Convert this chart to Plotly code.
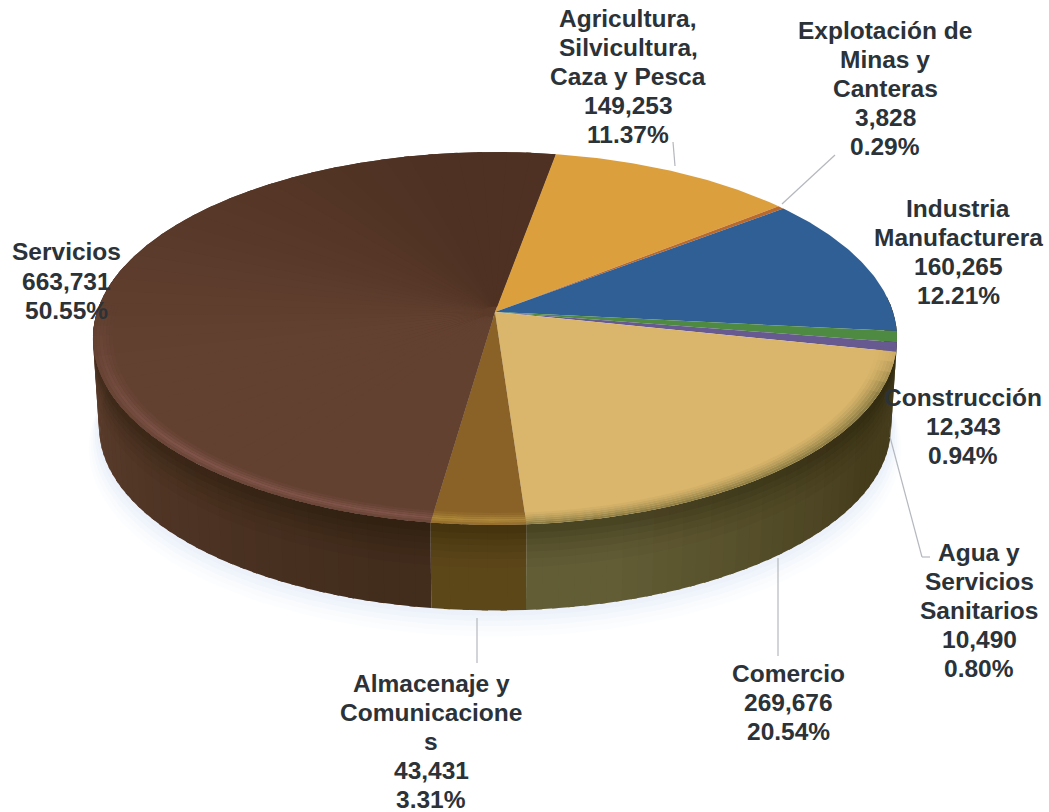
import numpy as np
import plotly.graph_objects as go

# ---- data ----
name_lines = [
    ["Agricultura,", "Silvicultura,", "Caza y Pesca"],
    ["Explotación de", "Minas y", "Canteras"],
    ["Industria", "Manufacturera"],
    ["Construcción"],
    ["Agua y", "Servicios", "Sanitarios"],
    ["Comercio"],
    ["Almacenaje y", "Comunicacione", "s"],
    ["Servicios"],
]
values = [149253, 3828, 160265, 12343, 10490, 269676, 43431, 663731]
percents = [11.37, 0.29, 12.21, 0.94, 0.80, 20.54, 3.31, 50.55]

# ---- style ----
top_colors = ["#dc9f3e", "#b9692c", "#2f5f95", "#4f8a42", "#675a90", "#dab66c", "#8a6228", "#5b3a29"]
edge_colors = ["#dc9f3e", "#b9692c", "#2f5f95", "#4f8a42", "#675a90", "#8f7f46", "#b08a3a", "#80544a"]
side_colors = ["#6a4a1c", "#5a3a18", "#1f3a5c", "#2f5227", "#3e3558", "#625d35", "#5c4719", "#422c1c"]
label_x = [628, 885, 958, 963, 979, 788, 431, 66]
label_y = [18, 30, 208, 397, 552, 673, 683, 252]
line_pitch = 29.2
text_color = "#2b3238"
leaders_px = [((673, 142), (675, 166)), ((835, 155), (782, 204)),
              ((890, 437), (922, 557)), ((922, 557), (930, 557)),
              ((778, 558), (778, 656)), ((477, 618), (477, 663))]

W, H = 1049, 812
CX, CY, R = 495, 312, 398.0      # pixels per data unit and pie centre
START = 10.0
K, HY = 0.142, 0.459             # perspective strength, vertical squash
DEPTH, SHRINK = 0.223, 0.985
NEAR, FAR = "#634131", "#4e3122"


def proj(theta_deg, r=1.0, drop=0.0, scale=1.0):
    t = np.radians(theta_deg)
    u, v = r * np.sin(t), r * np.cos(t)
    s = 1.0 / (1.0 + K * v)
    return scale * u * s, scale * HY * v * s - drop


def mix(c1, c2, f):
    a = [int(c1[i:i + 2], 16) for i in (1, 3, 5)]
    b = [int(c2[i:i + 2], 16) for i in (1, 3, 5)]
    m = [round(a[i] * (1 - f) + b[i] * f) for i in range(3)]
    return "#%02x%02x%02x" % tuple(m)


def poly(fig, x, y, color):
    fig.add_trace(go.Scatter(x=list(x), y=list(y), mode="lines", fill="toself", fillcolor=color,
                             line=dict(color=color, width=0), hoverinfo="skip", showlegend=False))


total = sum(values)
edges = START + np.concatenate([[0], np.cumsum(values)]) / total * 360.0
fig = go.Figure()

# very faint bluish halo under the disc
circle = np.linspace(90, 290, 80)
for grow, alpha in [(0.05, 0.04), (0.04, 0.05), (0.03, 0.06), (0.02, 0.07), (0.01, 0.08)]:
    xa, ya = proj(circle, r=1 + grow / 2, drop=DEPTH + grow, scale=SHRINK)
    xb, yb = proj(circle[::-1], r=0.9)
    poly(fig, np.r_[xa, xb], np.r_[ya, yb], f"rgba(190,208,238,{alpha})")

# side wall: horizontal shading painted as overlapping strips
for i, col in enumerate(side_colors):
    a0, a1 = max(edges[i], 85), min(edges[i + 1], 285)
    if a1 <= a0:
        continue
    grid = np.linspace(a0, a1, max(2, int((a1 - a0) / 2) + 1))
    for g0, g1 in zip(grid[:-1], grid[1:]):
        mid = (g0 + g1) / 2
        shade = mix(col, "#453c1c", min(1, max(0, (165 - mid) / 45)))
        if mid > 195:
            shade = mix(col, "#5a3c2c", min(1, (mid - 195) / 65))
        arc = np.linspace(g0, min(g1 + 0.8, a1), 4)
        xa, ya = proj(arc)
        xb, yb = proj(arc[::-1], drop=DEPTH, scale=SHRINK)
        poly(fig, np.r_[xa, xb], np.r_[ya, yb], shade)

# darker soft band along the top of the side wall, as translucent layers
wall = np.linspace(85, 285, 120)
for b1, alpha in [(0.5, 0.03), (0.4, 0.04), (0.32, 0.05), (0.24, 0.06), (0.17, 0.07), (0.1, 0.08)]:
    xa, ya = proj(wall)
    xb, yb = proj(wall[::-1], drop=DEPTH * b1, scale=1 - (1 - SHRINK) * b1)
    poly(fig, np.r_[xa, xb], np.r_[ya, yb], f"rgba(20,14,6,{alpha})")

# top surface
for i, col in enumerate(top_colors):
    a0, a1 = edges[i], edges[i + 1]
    arc = np.linspace(a0, a1, max(3, int((a1 - a0) * 1.5)))
    xa, ya = proj(arc)
    poly(fig, np.r_[0, xa, 0], np.r_[0, ya, 0], col)
    if i == len(top_colors) - 1:
        # the large slice is darker toward the back: ring sectors, kept off the centre
        grid = np.linspace(a1, a0, 46)
        for g1, g0 in zip(grid[:-1], grid[1:]):
            mid = (g0 + g1) / 2
            f = np.clip((mid - 255) / 95, 0, 1)
            arc = np.linspace(max(g0 - 0.8, a0), g1, 4)
            xa, ya = proj(arc)
            xb, yb = proj(arc[::-1], r=0.03)
            poly(fig, np.r_[xa, xb], np.r_[ya, yb], mix(NEAR, FAR, f))

# soft rim on the near half of the top surface
radii = [1.0, 0.992, 0.984, 0.976, 0.968, 0.96, 0.952]
peak_profile = [0.35, 0.7, 0.95, 0.7, 0.4, 0.18]
fade_profile = [1.0, 0.78, 0.58, 0.4, 0.24, 0.1]
comercio = 5
for i, col in enumerate(edge_colors):
    a0, a1 = max(edges[i], 101), min(edges[i + 1], 272)
    if a1 <= a0:
        continue
    profile = fade_profile if i == comercio else peak_profile
    base = top_colors[i]
    grid = np.linspace(a0, a1, max(2, int((a1 - a0) / 3) + 1))
    for g0, g1 in zip(grid[:-1], grid[1:]):
        mid = (g0 + g1) / 2
        w = np.clip((272 - mid) / 45, 0, 1) * np.clip((mid - 101) / 14, 0, 1)
        under = mix(NEAR, FAR, float(np.clip((mid - 255) / 95, 0, 1))) if i == 7 else base
        arc = np.linspace(g0, min(g1 + 0.6, a1), 3)
        for j in range(len(profile)):
            xa, ya = proj(arc, r=radii[j])
            xb, yb = proj(arc[::-1], r=radii[j + 1])
            poly(fig, np.r_[xa, xb], np.r_[ya, yb], mix(under, col, w * profile[j]))

# leader lines
for (p0, p1) in leaders_px:
    fig.add_shape(type="line", xref="paper", yref="paper",
                  x0=p0[0] / W, x1=p1[0] / W, y0=1 - p0[1] / H, y1=1 - p1[1] / H,
                  line=dict(color="#b4b7bd", width=1.2))

# labels
for i, lines in enumerate(name_lines):
    rows = lines + [f"{values[i]:,}", f"{percents[i]:.2f}%"]
    for j, row in enumerate(rows):
        fig.add_annotation(xref="paper", yref="paper", x=label_x[i] / W, y=1 - (label_y[i] + j * line_pitch) / H,
                           text=row, showarrow=False, xanchor="center", yanchor="middle",
                           font=dict(family="Liberation Sans", size=24.5, color=text_color, weight="bold"))

fig.update_layout(
    width=W, height=H, margin=dict(l=0, r=0, t=0, b=0), showlegend=False,
    paper_bgcolor="white", plot_bgcolor="white",
    xaxis=dict(range=[-CX / R, (W - CX) / R], visible=False, fixedrange=True),
    yaxis=dict(range=[(CY - H) / R, CY / R], visible=False, fixedrange=True),
)
fig.write_html("out.html", config=dict(displayModeBar=False),
               post_script="document.body.style.margin='0';")
